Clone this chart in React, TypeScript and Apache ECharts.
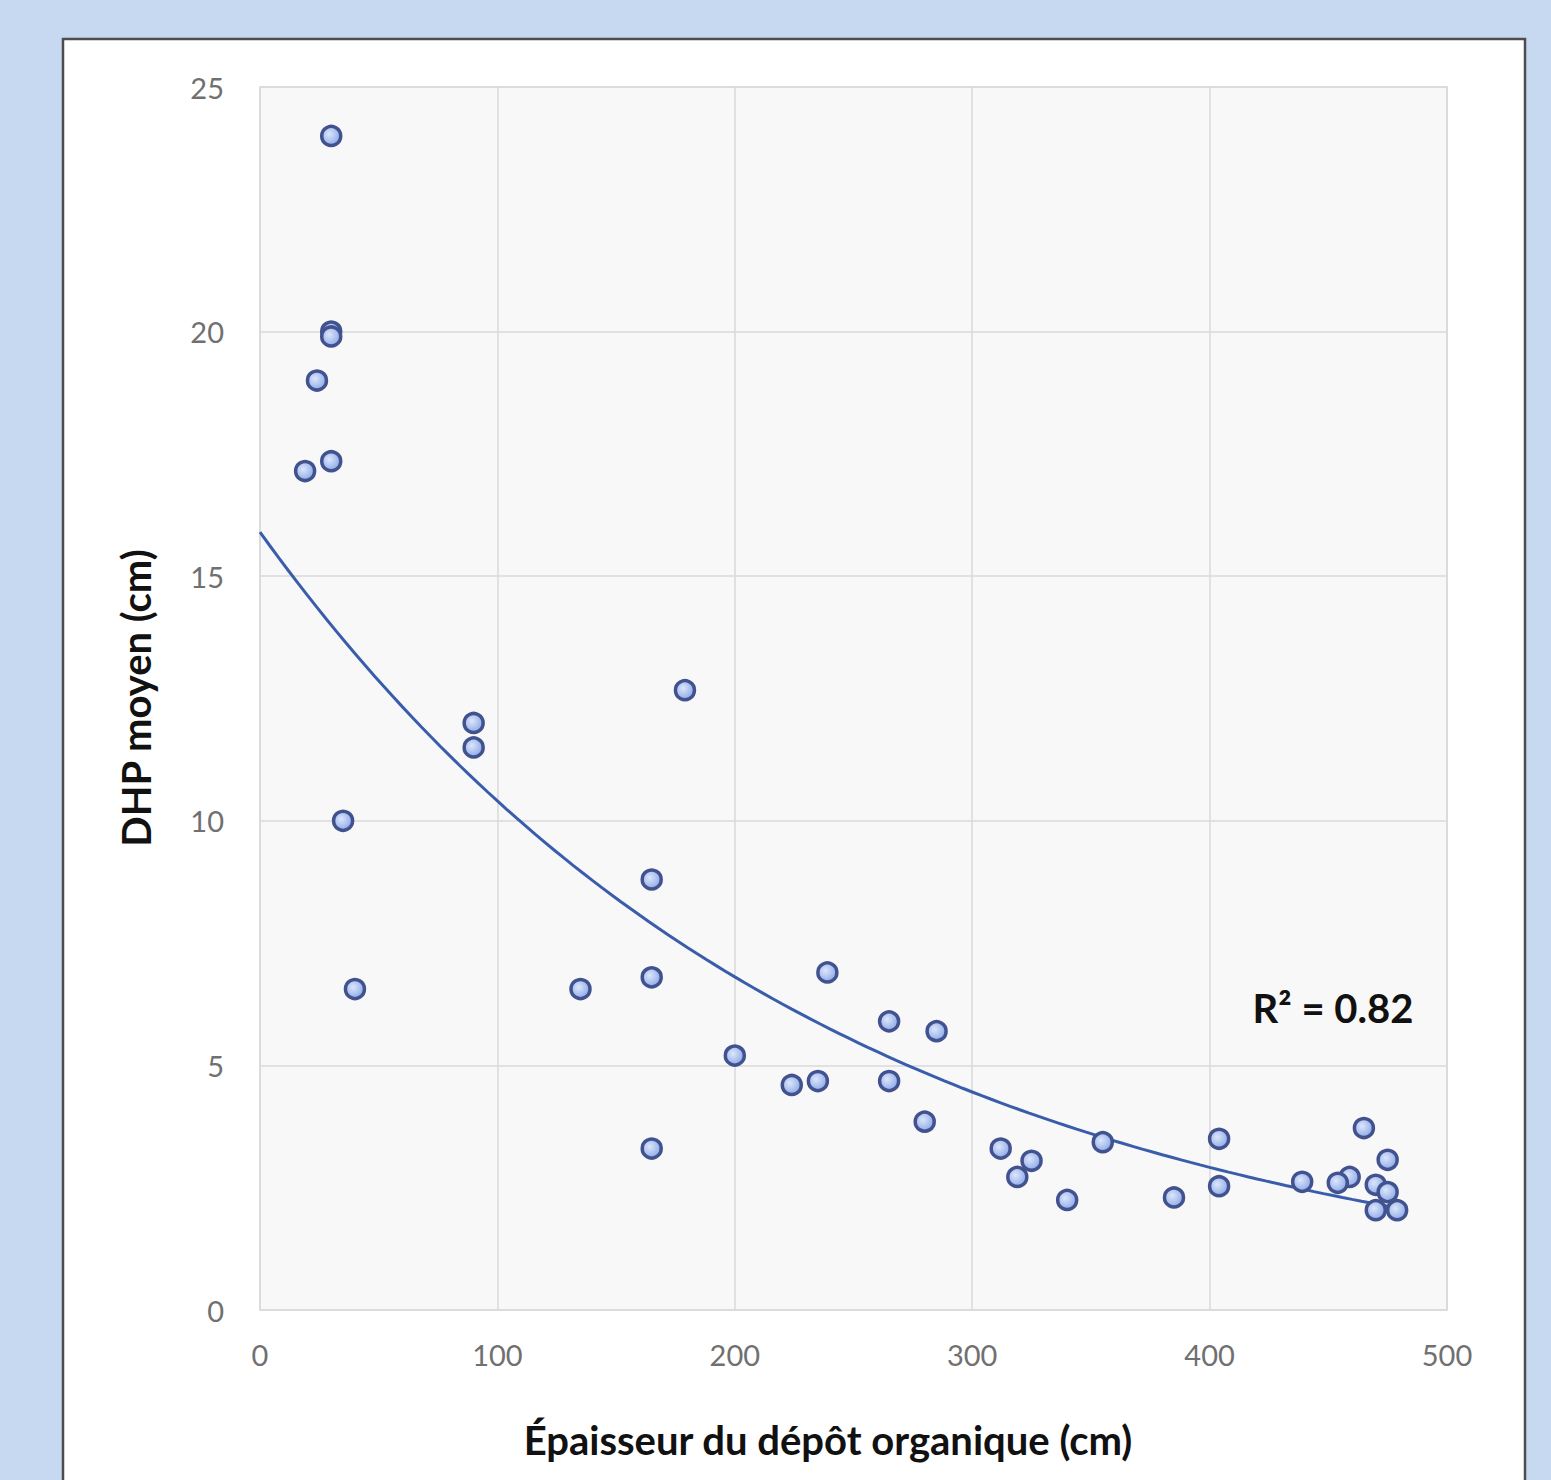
import React, { useEffect, useRef } from "react";
import * as echarts from "echarts";

// Épaisseur du dépôt organique (cm)
const X_VALUES = [30, 30, 30, 24, 19, 30, 35, 40, 90, 90, 135, 165, 165, 165, 179, 200, 224, 235, 239, 265, 265, 285, 280, 312, 319, 325, 340, 355, 385, 404, 404, 465, 475, 459, 454, 439, 470, 475, 470, 479];
// DHP moyen (cm)
const Y_VALUES = [24, 20, 19.9, 19, 17.15, 17.35, 10, 6.56, 12, 11.5, 6.56, 8.8, 6.8, 3.3, 12.67, 5.2, 4.6, 4.68, 6.9, 5.9, 4.68, 5.7, 3.85, 3.3, 2.72, 3.05, 2.25, 3.43, 2.3, 3.5, 2.53, 3.72, 3.07, 2.72, 2.6, 2.62, 2.56, 2.41, 2.04, 2.04];

// Exponential trendline: y = A * exp(B * x)
const TREND_A = 15.9;
const TREND_B = -0.00424;
const TREND_X_END = 480;
const R2_LABEL = "R² = 0.82";

const X_TICKS = [0, 100, 200, 300, 400, 500];
const Y_TICKS = [0, 5, 10, 15, 20, 25];

export default function App() {
  const ref = useRef<HTMLDivElement>(null);

  useEffect(() => {
    if (!ref.current) return;
    const chart = echarts.init(ref.current, undefined, { renderer: "svg" });

    const points = X_VALUES.map((x, i) => [x, Y_VALUES[i]]);
    const trend: number[][] = [];
    for (let x = 0; x <= TREND_X_END; x += 4) {
      trend.push([x, TREND_A * Math.exp(TREND_B * x)]);
    }

    const labelFont = "Lato, 'Open Sans', sans-serif";

    chart.setOption({
      animation: false,
      backgroundColor: "#c6d9f0",
      graphic: [
        {
          type: "rect",
          z: -10,
          shape: { x: 63, y: 39, width: 1462, height: 1470 },
          style: { fill: "#ffffff", stroke: "#4d4d4d", lineWidth: 2.5 },
        },
        {
          type: "text",
          x: 828,
          y: 1440,
          style: {
            text: "Épaisseur du dépôt organique (cm)",
            font: "bold 40px " + labelFont,
            fill: "#111111",
            align: "center",
            verticalAlign: "middle",
          },
        },
        {
          type: "text",
          x: 136,
          y: 698,
          rotation: Math.PI / 2,
          style: {
            text: "DHP moyen (cm)",
            font: "bold 40px " + labelFont,
            fill: "#111111",
            align: "center",
            verticalAlign: "middle",
          },
        },
        {
          type: "text",
          x: 1333,
          y: 1008,
          style: {
            text: R2_LABEL,
            font: "bold 40px " + labelFont,
            fill: "#111111",
            align: "center",
            verticalAlign: "middle",
          },
        },
      ],
      grid: {
        left: 260,
        top: 87,
        right: 104,
        bottom: 170,
        show: true,
        backgroundColor: "#f8f8f8",
        borderColor: "#d6d6d6",
        borderWidth: 1.5,
      },
      xAxis: {
        type: "value",
        min: X_TICKS[0],
        max: X_TICKS[X_TICKS.length - 1],
        interval: 100,
        axisLine: { show: false },
        axisTick: { show: false },
        axisLabel: {
          color: "#707070",
          fontSize: 29,
          fontFamily: labelFont,
          margin: 30,
        },
        splitLine: { show: true, lineStyle: { color: "#dadada", width: 1.5 } },
      },
      yAxis: {
        type: "value",
        min: Y_TICKS[0],
        max: Y_TICKS[Y_TICKS.length - 1],
        interval: 5,
        axisLine: { show: false },
        axisTick: { show: false },
        axisLabel: {
          color: "#707070",
          fontSize: 29,
          fontFamily: labelFont,
          margin: 36,
        },
        splitLine: { show: true, lineStyle: { color: "#dadada", width: 1.5 } },
      },
      series: [
        {
          type: "line",
          data: trend,
          showSymbol: false,
          smooth: false,
          lineStyle: { color: "#3a5dab", width: 3 },
          z: 2,
        },
        {
          type: "scatter",
          data: points,
          symbol: "circle",
          symbolSize: 19,
          z: 3,
          itemStyle: {
            color: new echarts.graphic.RadialGradient(0.4, 0.4, 0.6, [
              { offset: 0, color: "#dce6fb" },
              { offset: 1, color: "#8fabe8" },
            ]),
            borderColor: "#41528f",
            borderWidth: 3.5,
            opacity: 1,
          },
        },
      ],
    });

    return () => chart.dispose();
  }, []);

  return (
    <div
      ref={ref}
      style={{ position: "absolute", left: 0, top: 0, width: 1551, height: 1480 }}
    />
  );
}
